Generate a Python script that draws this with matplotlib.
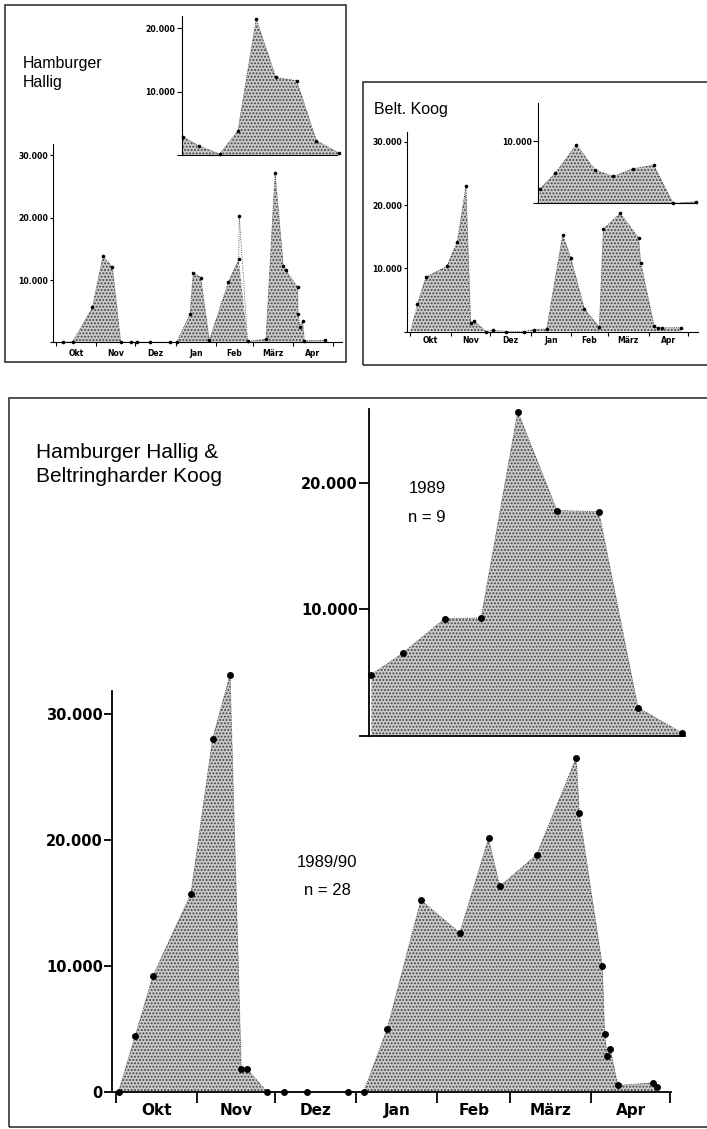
import numpy as np
from matplotlib import pyplot as plt

W, H = 707, 1129

# Monatsgrenzen in Tagen ab 1. Oktober
month_edges = [0, 31, 61, 92, 123, 151, 182, 212]
month_names = ['Okt', 'Nov', 'Dez', 'Jan', 'Feb', 'März', 'Apr']

# Hamburger Hallig 1989/90
hh_days = [6.0, 13.2, 28.2, 36.3, 43.5, 49.9, 57.8, 62.1, 72.3, 87.6, 92.7,
           102.9, 105.4, 111.1, 117.7, 132.2, 140.2, 140.6, 147.0, 161.0,
           168.0, 174.3, 176.1, 185.3, 185.6, 187.1, 189.1, 190.4, 206.2]
hh_counts = [0, 100, 5600, 13800, 12100, 0, 0, 0, 0, 0, 0,
             4500, 11200, 10400, 300, 9600, 13300, 20300, 150, 500,
             27200, 12300, 11600, 8800, 4500, 2500, 3400, 250, 300]
hh_spike = 17  # nur gepunktet, nicht gefuellt

# Beltringharder Koog 1989/90
bk_days = [5.6, 12.2, 28.0, 36.1, 42.7, 46.3, 48.8, 58.0, 63.6, 73.2, 87.2,
           94.6, 104.3, 116.5, 122.6, 133.0, 144.4, 147.5, 160.4, 174.4,
           176.0, 186.3, 189.4, 192.4, 206.7]
bk_counts = [4350, 8600, 10300, 14200, 23000, 1400, 1700, 0, 200, 0, 0,
             300, 400, 15300, 11700, 3600, 700, 16200, 18700, 14800,
             10900, 800, 600, 600, 600]

# beide Gebiete 1989/90, n = 28
sum_days = [0.9, 7.2, 14.1, 28.6, 36.9, 43.6, 47.9, 50.0, 57.8, 64.1, 73.1,
            88.6, 94.8, 103.8, 116.7, 131.6, 142.6, 146.9, 161.0, 176.2,
            177.4, 186.2, 187.1, 188.1, 189.3, 192.1, 205.5, 207.2]
sum_counts = [0, 4400, 9200, 15700, 28000, 33100, 1800, 1800, 0, 0, 0,
              0, 0, 5000, 15200, 12600, 20100, 16300, 18800, 26500,
              22100, 10000, 4600, 2800, 3400, 500, 700, 400]

# Zaehlungen 1989 (Insets), n = 9
days_1989 = [1, 13, 29, 43, 57, 72, 88, 103, 120]
hh_1989 = [2900, 1470, 150, 3790, 21480, 12270, 11740, 2260, 360]
bk_1989 = [2270, 4870, 9460, 5450, 4330, 5570, 6170, 0, 260]
sum_1989 = [4840, 6530, 9260, 9320, 25600, 17790, 17710, 2240, 210]

plt.rcParams['font.family'] = 'DejaVu Sans'
plt.rcParams['hatch.linewidth'] = 0.9


def px_axes(fig, x0, y0, x1, y1):
    ax = fig.add_axes([x0 / W, 1 - y1 / H, (x1 - x0) / W, (y1 - y0) / H])
    ax.patch.set_alpha(0)
    for s in ['top', 'right']:
        ax.spines[s].set_visible(False)
    return ax


def draw_series(ax, days, counts, ms, skip=None, start0=False):
    fx, fy = list(days), list(counts)
    if skip is not None:
        del fx[skip], fy[skip]
    if start0:
        fx, fy = [month_edges[0]] + fx, [0] + fy
    ax.fill_between(fx, fy, 0, facecolor='#c9c9c9', edgecolor='#404040',
                    hatch='.....', linewidth=0, clip_on=False, zorder=1)
    ax.plot(days, counts, ':', color='#333333', lw=0.6, clip_on=False,
            zorder=2)
    ax.plot(days, counts, 'o', color='black', ms=ms, mec='none',
            clip_on=False, zorder=3)


def y_axis(ax, ylim, ticks, labels, fs, length, lw):
    ax.set_ylim(*ylim)
    ax.set_yticks(ticks)
    ax.set_yticklabels(labels, fontsize=fs, fontweight='bold')
    ax.tick_params(axis='y', length=length, width=lw, pad=1)
    ax.spines['left'].set_linewidth(lw)
    ax.spines['bottom'].set_linewidth(lw)


def month_axis(ax, fs, length, lw, pad):
    ax.set_xticks(month_edges)
    ax.set_xticklabels([])
    ax.tick_params(axis='x', which='major', length=length, width=lw)
    mids = [(a + b) / 2 for a, b in zip(month_edges[:-1], month_edges[1:])]
    ax.set_xticks(mids, minor=True)
    ax.set_xticklabels(month_names, minor=True, fontsize=fs,
                       fontweight='bold')
    ax.tick_params(axis='x', which='minor', length=0, pad=pad)


def frame(fig, x0, y0, x1, y1):
    fig.add_artist(plt.Rectangle((x0 / W, 1 - y1 / H), (x1 - x0) / W,
                                 (y1 - y0) / H, fill=False, lw=1.1,
                                 ec='#222222', transform=fig.transFigure))


fig = plt.figure(figsize=(W / 100, H / 100), dpi=100)

# --- Hamburger Hallig ---
frame(fig, 5, 5, 346, 362)
ax = px_axes(fig, 53.3, 144, 342, 342.3)
draw_series(ax, hh_days, hh_counts, 2.6, skip=hh_spike)
ax.set_xlim(-1.7, 219.2)
y_axis(ax, (0, 31830), [0, 10000, 20000, 30000],
       ['', '10.000', '20.000', '30.000'], 5.6, 2.5, 0.8)
month_axis(ax, 5.5, 3, 0.8, 5)

ax = px_axes(fig, 181.7, 16, 337, 155)
draw_series(ax, days_1989, hh_1989, 2.6)
ax.set_xlim(0, 118.8)
ax.set_xticks([])
y_axis(ax, (0, 21960), [0, 10000, 20000], ['', '10.000', '20.000'],
       5.6, 3.5, 0.8)
fig.text(22.7 / W, 1 - 68 / H, 'Hamburger', family='Liberation Sans',
         fontsize=11.4, va='baseline')
fig.text(22.7 / W, 1 - 87 / H, 'Hallig', family='Liberation Sans',
         fontsize=11.4, va='baseline')

# --- Belt. Koog ---
frame(fig, 363, 82, 720, 365)
ax = px_axes(fig, 407.3, 131.7, 698, 331.5)
draw_series(ax, bk_days, bk_counts, 2.6, start0=True)
ax.set_xlim(-2.06, 219.7)
y_axis(ax, (0, 31610), [0, 10000, 20000, 30000],
       ['', '10.000', '20.000', '30.000'], 5.6, 2.5, 0.8)
month_axis(ax, 5.5, 3, 0.8, 3.5)

ax = px_axes(fig, 538.3, 103.3, 697, 203.3)
draw_series(ax, days_1989, bk_1989, 2.6)
ax.set_xlim(0, 121)
ax.set_xticks([])
y_axis(ax, (0, 16130), [0, 10000], ['', '10.000'], 5.6, 3.5, 0.8)
fig.text(374 / W, 1 - 114 / H, 'Belt. Koog', family='Liberation Sans',
         fontsize=11.5, va='baseline')

# --- beide Gebiete ---
frame(fig, 9, 398, 720, 1127)
ax = px_axes(fig, 111.8, 690.7, 671, 1091.7)
draw_series(ax, sum_days, sum_counts, 5)
ax.set_xlim(-1.7, 212.5)
y_axis(ax, (0, 31830), [0, 10000, 20000, 30000],
       ['0', '10.000', '20.000', '30.000'], 10.5, 5.5, 1.3)
month_axis(ax, 11, 8, 1.3, 8)

ax = px_axes(fig, 368.8, 409.3, 685, 735.9)
draw_series(ax, days_1989, sum_1989, 5)
ax.set_xlim(0, 121)
ax.set_xticks([])
y_axis(ax, (0, 25780), [0, 10000, 20000], ['', '10.000', '20.000'],
       10.5, 7, 1.3)

fig.text(36 / W, 1 - 457.5 / H, 'Hamburger Hallig &',
         family='Liberation Sans', fontsize=15, va='baseline')
fig.text(36 / W, 1 - 482 / H, 'Beltringharder Koog',
         family='Liberation Sans', fontsize=15, va='baseline')
fig.text(427 / W, 1 - 493 / H, '1989', family='Liberation Sans',
         fontsize=12, ha='center', va='baseline')
fig.text(427 / W, 1 - 522 / H, 'n = 9', family='Liberation Sans',
         fontsize=12, ha='center', va='baseline')
fig.text(327 / W, 1 - 867 / H, '1989/90', family='Liberation Sans',
         fontsize=12, ha='center', va='baseline')
fig.text(327 / W, 1 - 895 / H, 'n = 28', family='Liberation Sans',
         fontsize=12, ha='center', va='baseline')

fig.savefig('out.png', dpi=100)
